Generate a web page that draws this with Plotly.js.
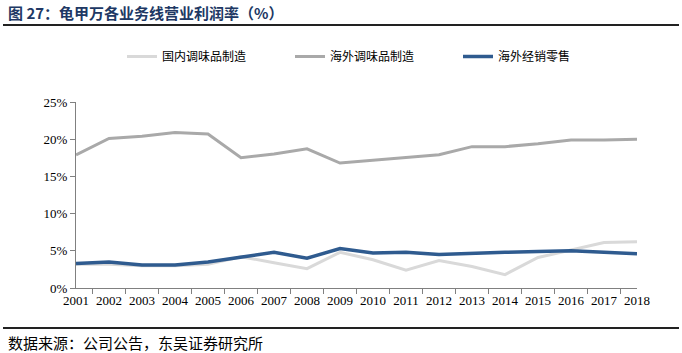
<!DOCTYPE html>
<html>
<head>
<meta charset="utf-8">
<script src="https://cdn.plot.ly/plotly-3.0.1.min.js"></script>
<style>html,body{margin:0;padding:0;background:#fff;}#chart{width:682px;height:353px;}</style>
</head>
<body>
<div id="chart"></div>
<script>
const years = ['2001','2002','2003','2004','2005','2006','2007','2008','2009','2010','2011','2012','2013','2014','2015','2016','2017','2018'];
const domesticSeasoning = [3.2, 3.2, 3.0, 3.0, 3.2, 4.2, 3.4, 2.6, 4.8, 3.8, 2.4, 3.7, 2.9, 1.8, 4.1, 5.1, 6.1, 6.2];
const overseasSeasoning = [17.9, 20.1, 20.4, 20.9, 20.7, 17.5, 18.0, 18.7, 16.8, 17.2, 17.6, 17.9, 19.0, 19.0, 19.4, 19.9, 19.9, 20.0];
const overseasRetail = [3.3, 3.5, 3.1, 3.1, 3.5, 4.1, 4.8, 4.0, 5.3, 4.7, 4.8, 4.5, 4.7, 4.8, 4.9, 5.0, 4.8, 4.6];
const seriesNames = ['国内调味品制造', '海外调味品制造', '海外经销零售'];
const titleText = '图 27：龟甲万各业务线营业利润率（%）';
const sourceText = '数据来源：公司公告，东吴证券研究所';

const traces = [
  {x: years, y: domesticSeasoning, name: seriesNames[0], type: 'scatter', mode: 'lines',
   line: {color: '#d9d9d9', width: 3}},
  {x: years, y: overseasSeasoning, name: seriesNames[1], type: 'scatter', mode: 'lines',
   line: {color: '#a9a9a9', width: 3}},
  {x: years, y: overseasRetail, name: seriesNames[2], type: 'scatter', mode: 'lines',
   line: {color: '#2f5b8f', width: 3.5}}
];

const layout = {
  width: 682, height: 353,
  margin: {l: 76, r: 45, t: 102, b: 65},
  paper_bgcolor: '#ffffff', plot_bgcolor: '#ffffff',
  showlegend: true,
  legend: {orientation: 'h', xref: 'container', yref: 'container', x: 122/682, y: 1 - 42/353,
           xanchor: 'left', yanchor: 'top', entrywidth: 123, entrywidthmode: 'pixels',
           font: {family: 'Noto Sans CJK SC, sans-serif', size: 12, color: '#000'},
           bgcolor: 'rgba(0,0,0,0)', traceorder: 'normal'},
  xaxis: {type: 'category', showline: true, linecolor: '#808080', linewidth: 1,
          ticks: 'outside', tickson: 'boundaries', ticklen: 5, tickcolor: '#808080',
          showgrid: false, zeroline: false, tickangle: 0,
          tickfont: {family: 'Liberation Serif, serif', size: 13, color: '#000'}},
  yaxis: {range: [0, 25], dtick: 5, ticksuffix: '%', showline: true, linecolor: '#808080',
          linewidth: 1, ticks: 'outside', ticklen: 5, tickcolor: '#808080',
          showgrid: false, zeroline: false,
          tickfont: {family: 'Liberation Serif, serif', size: 13, color: '#000'}},
  annotations: [
    {text: '<b>' + titleText + '</b>', xref: 'paper', yref: 'paper', x: (6-76)/561, y: (288-12)/186,
     xanchor: 'left', yanchor: 'middle', showarrow: false,
     font: {family: 'Noto Sans CJK SC, sans-serif', size: 15, color: '#203864'}},
    {text: sourceText, xref: 'paper', yref: 'paper', x: (6-76)/561, y: (288-342)/186,
     xanchor: 'left', yanchor: 'middle', showarrow: false,
     font: {family: 'Noto Sans CJK SC, sans-serif', size: 15, color: '#000'}}
  ],
  shapes: [
    {type: 'line', xref: 'paper', yref: 'paper', x0: (3-76)/561, x1: (679-76)/561,
     y0: (288-25)/186, y1: (288-25)/186, line: {color: '#222', width: 2}},
    {type: 'line', xref: 'paper', yref: 'paper', x0: (3-76)/561, x1: (679-76)/561,
     y0: (288-328)/186, y1: (288-328)/186, line: {color: '#222', width: 2}}
  ]
};

Plotly.newPlot('chart', traces, layout, {displayModeBar: false, staticPlot: true});
</script>
</body>
</html>
